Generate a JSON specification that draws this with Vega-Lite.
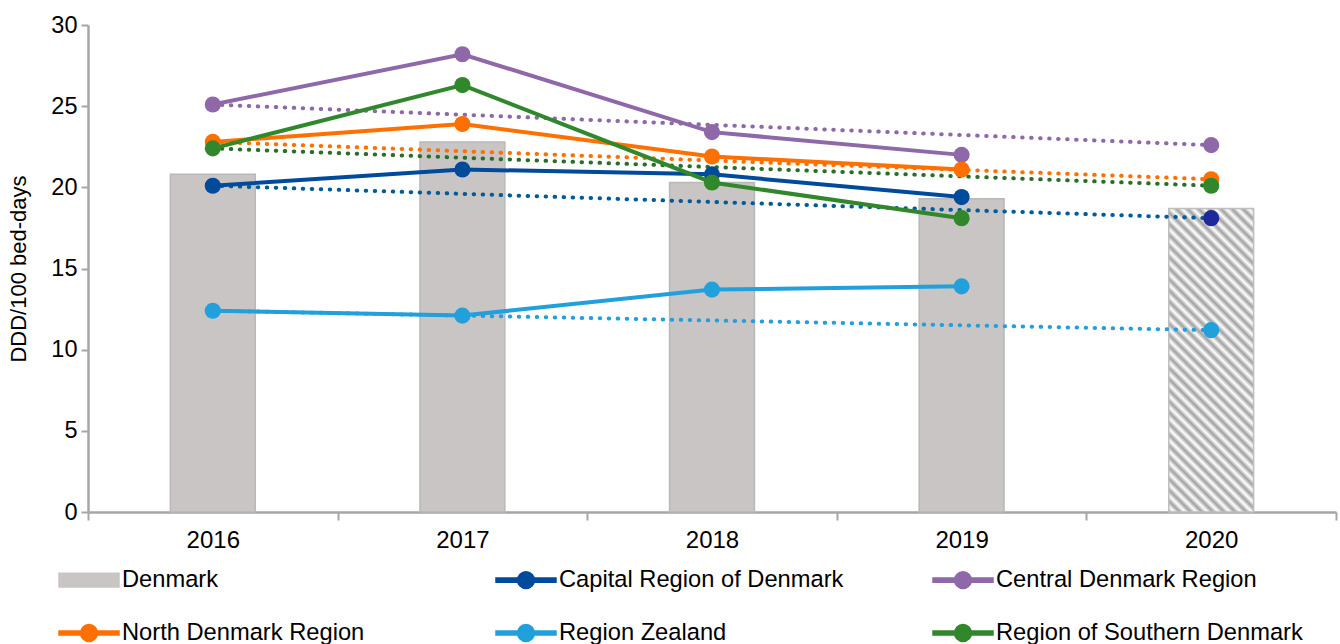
{
  "$schema": "https://vega.github.io/schema/vega-lite/v6.json",
  "width": 1248,
  "height": 487,
  "autosize": "none",
  "padding": {"left": 88, "top": 25, "right": 4, "bottom": 132},
  "background": "white",
  "config": {
    "view": {"stroke": null},
    "font": "Liberation Sans",
    "axis": {
      "domainColor": "#A6A6A6", "domainWidth": 2.5, "tickColor": "#A6A6A6", "tickWidth": 2,
      "labelFont": "Liberation Sans", "labelFontSize": 23.5, "labelColor": "#000000",
      "titleFont": "Liberation Sans", "titleFontSize": 22, "titleFontWeight": "normal", "titleColor": "#000000",
      "grid": false
    },
    "legend": {
      "title": null, "orient": "none", "legendX": -30, "legendY": 524,
      "columns": 3, "direction": "horizontal", "gridAlign": "all",
      "columnPadding": 64, "rowPadding": 10,
      "symbolSize": 3600, "symbolStrokeWidth": 0,
      "symbolType": "M-1,-0.07H1V0.07H-1Z M0.28,0A0.28,0.28 0 1,1 -0.28,0A0.28,0.28 0 1,1 0.28,0Z",
      "labelFont": "Liberation Sans", "labelFontSize": 23.7, "labelColor": "#000000", "labelOffset": 2, "labelLimit": 500
    }
  },
  "datasets": {
    "bars": [
      {"year": "2016", "series": "Denmark", "value": 20.8},
      {"year": "2017", "series": "Denmark", "value": 22.8},
      {"year": "2018", "series": "Denmark", "value": 20.3},
      {"year": "2019", "series": "Denmark", "value": 19.3},
      {"year": "2020", "series": "Denmark", "value": 18.7}
    ],
    "regions": [
      {"year": "2016", "series": "Capital Region of Denmark", "value": 20.1},
      {"year": "2017", "series": "Capital Region of Denmark", "value": 21.1},
      {"year": "2018", "series": "Capital Region of Denmark", "value": 20.8},
      {"year": "2019", "series": "Capital Region of Denmark", "value": 19.4},
      {"year": "2016", "series": "Central Denmark Region", "value": 25.1},
      {"year": "2017", "series": "Central Denmark Region", "value": 28.2},
      {"year": "2018", "series": "Central Denmark Region", "value": 23.4},
      {"year": "2019", "series": "Central Denmark Region", "value": 22.0},
      {"year": "2016", "series": "North Denmark Region", "value": 22.8},
      {"year": "2017", "series": "North Denmark Region", "value": 23.9},
      {"year": "2018", "series": "North Denmark Region", "value": 21.9},
      {"year": "2019", "series": "North Denmark Region", "value": 21.1},
      {"year": "2016", "series": "Region Zealand", "value": 12.4},
      {"year": "2017", "series": "Region Zealand", "value": 12.1},
      {"year": "2018", "series": "Region Zealand", "value": 13.7},
      {"year": "2019", "series": "Region Zealand", "value": 13.9},
      {"year": "2016", "series": "Region of Southern Denmark", "value": 22.4},
      {"year": "2017", "series": "Region of Southern Denmark", "value": 26.3},
      {"year": "2018", "series": "Region of Southern Denmark", "value": 20.3},
      {"year": "2019", "series": "Region of Southern Denmark", "value": 18.1}
    ],
    "trend": [
      {"year": "2016", "series": "Capital Region of Denmark", "value": 20.1},
      {"year": "2020", "series": "Capital Region of Denmark", "value": 18.1},
      {"year": "2016", "series": "Central Denmark Region", "value": 25.1},
      {"year": "2020", "series": "Central Denmark Region", "value": 22.6},
      {"year": "2016", "series": "North Denmark Region", "value": 22.8},
      {"year": "2020", "series": "North Denmark Region", "value": 20.5},
      {"year": "2016", "series": "Region Zealand", "value": 12.4},
      {"year": "2020", "series": "Region Zealand", "value": 11.2},
      {"year": "2016", "series": "Region of Southern Denmark", "value": 22.4},
      {"year": "2020", "series": "Region of Southern Denmark", "value": 20.1}
    ]
  },
  "encoding": {
    "x": {
      "field": "year", "type": "ordinal",
      "scale": {"type": "band", "domain": ["2016", "2017", "2018", "2019", "2020"], "paddingInner": 0, "paddingOuter": 0},
      "axis": {"title": null, "labelAngle": 0, "tickBand": "extent", "tickSize": 8, "labelPadding": 8, "labelFontSize": 24}
    },
    "y": {
      "field": "value", "type": "quantitative",
      "scale": {"domain": [0, 30], "nice": false, "zero": true},
      "axis": {"title": "DDD/100 bed-days", "values": [0, 5, 10, 15, 20, 25, 30], "tickSize": 7, "labelPadding": 4, "titlePadding": 20}
    },
    "color": {
      "field": "series", "type": "nominal",
      "scale": {
        "domain": ["Denmark", "Capital Region of Denmark", "Central Denmark Region", "North Denmark Region", "Region Zealand", "Region of Southern Denmark"],
        "range": ["#C9C5C5", "#004A9B", "#8E68A8", "#FF7000", "#21A0DB", "#31872B"]
      },
      "legend": {
        "encode": {
          "symbols": {
            "update": {
              "shape": {"signal": "datum.value === 'Denmark' ? 'M-1,-0.23H1V0.23H-1Z' : 'M-1,-0.07H1V0.07H-1Z M0.28,0A0.28,0.28 0 1,1 -0.28,0A0.28,0.28 0 1,1 0.28,0Z'"},
              "stroke": {"signal": "datum.value === 'Denmark' ? '#B4B4B4' : 'transparent'"},
              "strokeWidth": {"value": 1.5}
            }
          }
        }
      }
    }
  },
  "layer": [
    {
      "data": {"name": "bars"},
      "transform": [{"filter": "datum.year != '2020'"}],
      "mark": {"type": "bar", "stroke": "#B8B8B8", "strokeWidth": 1.5, "width": {"band": 0.34}}
    },
    {
      "data": {"name": "bars"},
      "transform": [{"filter": "datum.year == '2020'"}],
      "mark": {
        "type": "bar", "stroke": "#BFBFBF", "strokeWidth": 1.5, "width": {"band": 0.34},
        "fill": {
          "gradient": "linear", "x1": 0, "y1": 1, "x2": 0.332, "y2": -0.187,
          "stops": [
            {"offset": 0, "color": "#A0A0A0"}, {"offset": 0.0143, "color": "#FFFFFF"},
            {"offset": 0.0286, "color": "#A0A0A0"}, {"offset": 0.0429, "color": "#FFFFFF"},
            {"offset": 0.0571, "color": "#A0A0A0"}, {"offset": 0.0714, "color": "#FFFFFF"},
            {"offset": 0.0857, "color": "#A0A0A0"}, {"offset": 0.1, "color": "#FFFFFF"},
            {"offset": 0.1143, "color": "#A0A0A0"}, {"offset": 0.1286, "color": "#FFFFFF"},
            {"offset": 0.1429, "color": "#A0A0A0"}, {"offset": 0.1571, "color": "#FFFFFF"},
            {"offset": 0.1714, "color": "#A0A0A0"}, {"offset": 0.1857, "color": "#FFFFFF"},
            {"offset": 0.2, "color": "#A0A0A0"}, {"offset": 0.2143, "color": "#FFFFFF"},
            {"offset": 0.2286, "color": "#A0A0A0"}, {"offset": 0.2429, "color": "#FFFFFF"},
            {"offset": 0.2571, "color": "#A0A0A0"}, {"offset": 0.2714, "color": "#FFFFFF"},
            {"offset": 0.2857, "color": "#A0A0A0"}, {"offset": 0.3, "color": "#FFFFFF"},
            {"offset": 0.3143, "color": "#A0A0A0"}, {"offset": 0.3286, "color": "#FFFFFF"},
            {"offset": 0.3429, "color": "#A0A0A0"}, {"offset": 0.3571, "color": "#FFFFFF"},
            {"offset": 0.3714, "color": "#A0A0A0"}, {"offset": 0.3857, "color": "#FFFFFF"},
            {"offset": 0.4, "color": "#A0A0A0"}, {"offset": 0.4143, "color": "#FFFFFF"},
            {"offset": 0.4286, "color": "#A0A0A0"}, {"offset": 0.4429, "color": "#FFFFFF"},
            {"offset": 0.4571, "color": "#A0A0A0"}, {"offset": 0.4714, "color": "#FFFFFF"},
            {"offset": 0.4857, "color": "#A0A0A0"}, {"offset": 0.5, "color": "#FFFFFF"},
            {"offset": 0.5143, "color": "#A0A0A0"}, {"offset": 0.5286, "color": "#FFFFFF"},
            {"offset": 0.5429, "color": "#A0A0A0"}, {"offset": 0.5571, "color": "#FFFFFF"},
            {"offset": 0.5714, "color": "#A0A0A0"}, {"offset": 0.5857, "color": "#FFFFFF"},
            {"offset": 0.6, "color": "#A0A0A0"}, {"offset": 0.6143, "color": "#FFFFFF"},
            {"offset": 0.6286, "color": "#A0A0A0"}, {"offset": 0.6429, "color": "#FFFFFF"},
            {"offset": 0.6571, "color": "#A0A0A0"}, {"offset": 0.6714, "color": "#FFFFFF"},
            {"offset": 0.6857, "color": "#A0A0A0"}, {"offset": 0.7, "color": "#FFFFFF"},
            {"offset": 0.7143, "color": "#A0A0A0"}, {"offset": 0.7286, "color": "#FFFFFF"},
            {"offset": 0.7429, "color": "#A0A0A0"}, {"offset": 0.7571, "color": "#FFFFFF"},
            {"offset": 0.7714, "color": "#A0A0A0"}, {"offset": 0.7857, "color": "#FFFFFF"},
            {"offset": 0.8, "color": "#A0A0A0"}, {"offset": 0.8143, "color": "#FFFFFF"},
            {"offset": 0.8286, "color": "#A0A0A0"}, {"offset": 0.8429, "color": "#FFFFFF"},
            {"offset": 0.8571, "color": "#A0A0A0"}, {"offset": 0.8714, "color": "#FFFFFF"},
            {"offset": 0.8857, "color": "#A0A0A0"}, {"offset": 0.9, "color": "#FFFFFF"},
            {"offset": 0.9143, "color": "#A0A0A0"}, {"offset": 0.9286, "color": "#FFFFFF"},
            {"offset": 0.9429, "color": "#A0A0A0"}, {"offset": 0.9571, "color": "#FFFFFF"},
            {"offset": 0.9714, "color": "#A0A0A0"}, {"offset": 0.9857, "color": "#FFFFFF"},
            {"offset": 1, "color": "#A0A0A0"}
          ]
        }
      },
      "encoding": {"color": {"value": null}}
    },
    {
      "data": {"name": "trend"},
      "mark": {"type": "line", "strokeWidth": 4, "strokeDash": [0.5, 8.5], "strokeCap": "round"},
      "encoding": {
        "color": {"value": null},
        "stroke": {
          "field": "series", "type": "nominal", "legend": null,
          "scale": {
            "domain": ["Capital Region of Denmark", "Central Denmark Region", "North Denmark Region", "Region Zealand", "Region of Southern Denmark"],
            "range": ["#005C99", "#8E68A8", "#FF7000", "#21A0DB", "#2A6E2A"]
          }
        },
        "detail": {"field": "series"}
      }
    },
    {
      "data": {"name": "regions"},
      "mark": {"type": "line", "strokeWidth": 4}
    },
    {
      "data": {"name": "regions"},
      "mark": {"type": "point", "filled": true, "size": 260, "opacity": 1}
    },
    {
      "data": {"name": "trend"},
      "transform": [{"filter": "datum.year == '2020'"}],
      "mark": {"type": "point", "filled": true, "size": 260, "opacity": 1},
      "encoding": {
        "color": {"value": null},
        "fill": {
          "field": "series", "type": "nominal", "legend": null,
          "scale": {
            "domain": ["Capital Region of Denmark", "Central Denmark Region", "North Denmark Region", "Region Zealand", "Region of Southern Denmark"],
            "range": ["#1E2A99", "#8E68A8", "#FF7000", "#21A0DB", "#31872B"]
          }
        }
      }
    }
  ]
}
